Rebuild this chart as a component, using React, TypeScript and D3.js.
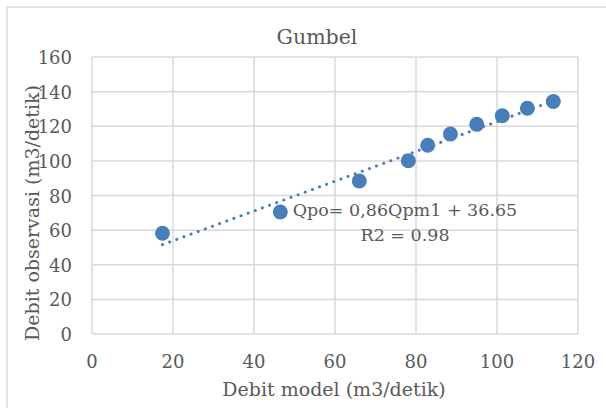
import * as d3 from "d3";

// Gumbel: model discharge vs observed discharge
const debitModel = [17.4, 46.5, 66.0, 78.1, 82.9, 88.5, 95.0, 101.3, 107.5, 113.9];
const debitObservasi = [58.2, 70.5, 88.4, 100.1, 109.0, 115.5, 121.1, 126.1, 130.4, 134.3];
const xTicks = [0, 20, 40, 60, 80, 100, 120];
const yTicks = [0, 20, 40, 60, 80, 100, 120, 140, 160];
const slope = 0.86;
const intercept = 36.65;
const eqLines = ["Qpo= 0,86Qpm1 + 36.65", "R2 = 0.98"];

const W = 606;
const H = 408;
const margin = { top: 57, right: 28, bottom: 74, left: 92 };
const font = "'DejaVu Serif', serif";
const textColor = "#595959";
const gridColor = "#d9d9d9";
const blue = "#4a7ebb";

export default function App() {
  const x = d3.scaleLinear().domain([0, 120]).range([margin.left, W - margin.right]);
  const y = d3.scaleLinear().domain([0, 160]).range([H - margin.bottom, margin.top]);

  const pts = debitModel.map((v, i) => ({ x: v, y: debitObservasi[i] }));
  const [xmin, xmax] = d3.extent(debitModel) as [number, number];
  const trend = d3.line<number>()
    .x(d => x(d))
    .y(d => y(slope * d + intercept));

  return (
    <svg width={W} height={H} style={{ position: "absolute", left: 0, top: 0, background: "#fff" }}>
      <rect x={7} y={7} width={W} height={H} fill="#fff" stroke={gridColor} strokeWidth={1.5} />
      <text x={317} y={44} textAnchor="middle" fontFamily={font} fontSize={20.5} fill={textColor}>Gumbel</text>

      {/* grid */}
      {yTicks.map(t => (
        <line key={"gy" + t} x1={x(0)} x2={x(120)} y1={y(t)} y2={y(t)} stroke={gridColor} strokeWidth={1.5} />
      ))}
      {xTicks.map(t => (
        <line key={"gx" + t} x1={x(t)} x2={x(t)} y1={y(0)} y2={y(160)} stroke={gridColor} strokeWidth={1.5} />
      ))}

      {/* tick labels */}
      {yTicks.map(t => (
        <text key={"ly" + t} x={x(0) - 20} y={y(t) + 7} textAnchor="end" fontFamily={font} fontSize={18} fill={textColor}>{t}</text>
      ))}
      {xTicks.map(t => (
        <text key={"lx" + t} x={x(t)} y={y(0) + 34} textAnchor="middle" fontFamily={font} fontSize={18} fill={textColor}>{t}</text>
      ))}

      {/* trendline */}
      <path d={trend([xmin, xmax]) || ""} fill="none" stroke={blue} strokeWidth={3}
        strokeDasharray="0.1 7.5" strokeLinecap="round" />

      {pts.map((p, i) => (
        <circle key={i} cx={x(p.x)} cy={y(p.y)} r={7.5} fill={blue} />
      ))}

      {/* equation */}
      <text x={405} y={216} textAnchor="middle" fontFamily={font} fontSize={17.5} fill={textColor}>{eqLines[0]}</text>
      <text x={405} y={241} textAnchor="middle" fontFamily={font} fontSize={17.5} fill={textColor}>{eqLines[1]}</text>

      {/* axis titles */}
      <text x={334} y={396} textAnchor="middle" fontFamily={font} fontSize={19} fill={textColor}>Debit model (m3/detik)</text>
      <text transform={`translate(39, 213) rotate(-90)`} textAnchor="middle" fontFamily={font} fontSize={19} fill={textColor}>Debit observasi (m3/detik)</text>
    </svg>
  );
}
